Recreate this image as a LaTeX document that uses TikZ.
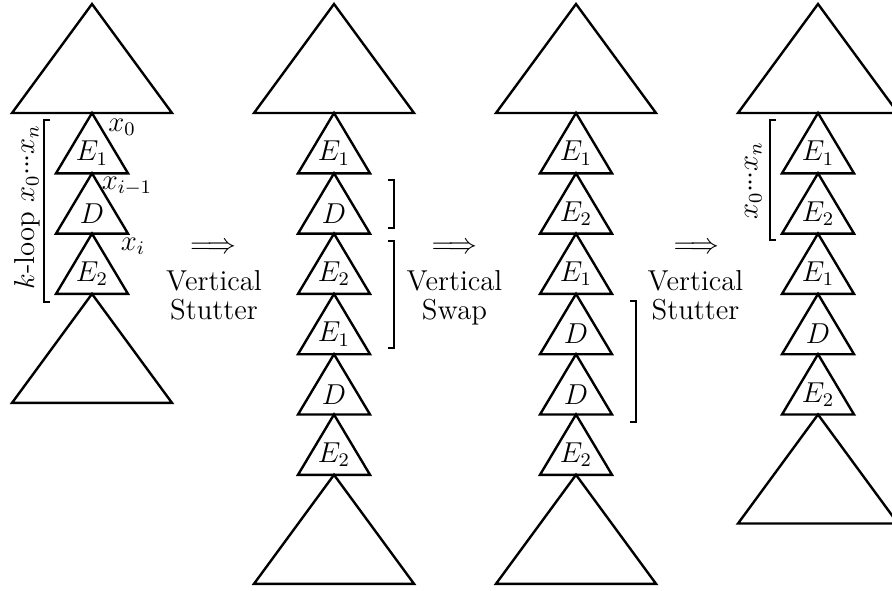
\documentclass[tikz,border=0pt]{standalone}
\tikzset{
  tri/.style={line width=1pt, line join=miter},
  brk/.style={line width=0.9pt},
  lbl/.style={inner sep=0pt},
}
\newcommand{\tdots}{{\cdot}\mkern-1mu{\cdot}\mkern-1mu{\cdot}}
\newcommand{\smalltri}[4]{%
  \draw[tri] (#2-36,#3+60.3) -- (#2,#3) -- (#2+36,#3+60.3) -- cycle;
  \node[lbl] (#1) at (#2,#3+40.2) {$#4$};}
\newcommand{\bigtri}[2]{%
  \draw[tri] (#1-80,#2+109) -- (#1,#2) -- (#1+80,#2+109) -- cycle;}
\begin{document}
\begin{tikzpicture}[x=0.41667pt,y=-0.41667pt,font=\fontsize{12}{12}\selectfont]
\useasboundingbox (0,0) rectangle (892,590);
% column 1
\bigtri{92}{4}
\smalltri{aA}{92}{113}{E_1}
\smalltri{aB}{92}{173.3}{D}
\smalltri{aC}{92}{233.6}{E_2}
\bigtri{92}{293.9}
\node[lbl] (xz) at (122,127) {$x_0$};
\node[lbl] (xim) at (127,186) {$x_{i-1}$};
\node[lbl] (xi) at (133,246) {$x_i$};
\draw[brk] (50,120) -- (44,120) -- (44,302) -- (50,302);
\node[lbl, rotate=90] (kl) at (27,207) {$k$-loop $x_0\tdots x_n$};
% column 2
\bigtri{334}{4}
\smalltri{bA}{334}{113}{E_1}
\smalltri{bB}{334}{173.3}{D}
\smalltri{bC}{334}{233.6}{E_2}
\smalltri{bD}{334}{293.9}{E_1}
\smalltri{bE}{334}{354.2}{D}
\smalltri{bF}{334}{414.5}{E_2}
\bigtri{334}{474.8}
\draw[brk] (388,180) -- (394,180) -- (394,228) -- (388,228);
\draw[brk] (388,241) -- (394,241) -- (394,348) -- (388,348);
% column 3
\bigtri{576}{4}
\smalltri{cA}{576}{113}{E_1}
\smalltri{cB}{576}{173.3}{E_2}
\smalltri{cC}{576}{233.6}{E_1}
\smalltri{cD}{576}{293.9}{D}
\smalltri{cE}{576}{354.2}{D}
\smalltri{cF}{576}{414.5}{E_2}
\bigtri{576}{474.8}
\draw[brk] (630,301) -- (636,301) -- (636,422) -- (630,422);
% column 4
\bigtri{818}{4}
\smalltri{dA}{818}{113}{E_1}
\smalltri{dB}{818}{173.3}{E_2}
\smalltri{dC}{818}{233.6}{E_1}
\smalltri{dD}{818}{293.9}{D}
\smalltri{dE}{818}{354.2}{E_2}
\bigtri{818}{414.5}
\draw[brk] (776,120) -- (770,120) -- (770,240) -- (776,240);
\node[lbl, rotate=90] (xl) at (753,181) {$x_0\tdots x_n$};
% arrows
\node[lbl] (ar1) at (213,248) {$\Longrightarrow$};
\node[lbl, anchor=north, align=center] (t1) at (214,270) {Vertical\\Stutter};
\node[lbl] (ar2) at (454.5,248) {$\Longrightarrow$};
\node[lbl, anchor=north, align=center] (t2) at (454.5,270) {Vertical\\Swap};
\node[lbl] (ar3) at (696.5,248) {$\Longrightarrow$};
\node[lbl, anchor=north, align=center] (t3) at (695.5,270) {Vertical\\Stutter};
\end{tikzpicture}
\end{document}
